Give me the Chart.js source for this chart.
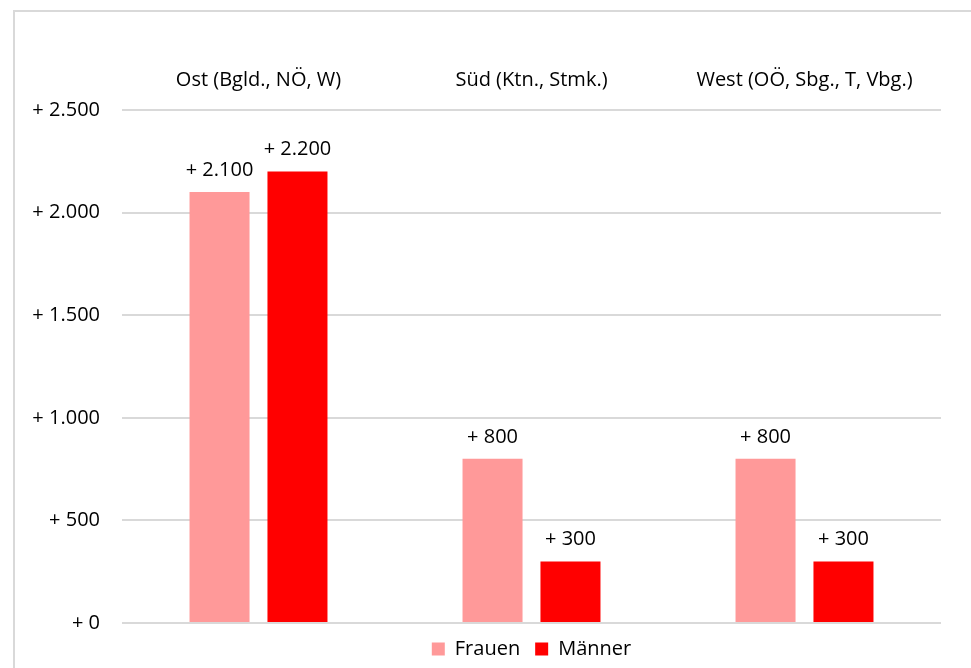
<!DOCTYPE html>
<html lang="de">
<head>
<meta charset="utf-8">
<script src="https://cdn.jsdelivr.net/npm/chart.js@4"></script>
<style>
  html, body { margin: 0; padding: 0; background: #fff; }
  #wrap { position: relative; width: 971px; height: 668px; }
</style>
</head>
<body>
<div id="wrap"><canvas id="regionChart" width="971" height="668"></canvas></div>
<script>
/* Zuwachs nach Region und Geschlecht */
const REGIONS = ['Ost (Bgld., NÖ, W)', 'Süd (Ktn., Stmk.)', 'West (OÖ, Sbg., T, Vbg.)'];
const FRAUEN = [2100, 800, 800];
const MAENNER = [2200, 300, 300];
const Y_TICKS = [0, 500, 1000, 1500, 2000, 2500];

const FONT = "'Open Sans', 'Noto Sans', sans-serif";
const FONT_SIZE = 20;
const GRID = '#d9d9d9';

Chart.defaults.font.family = FONT;
Chart.defaults.font.size = FONT_SIZE;
Chart.defaults.color = '#000';

/* "+ 2.100" style with dot as thousands separator */
function fmt(v) {
    return '+ ' + v.toLocaleString('de-DE');
}

/* Frame around the chart */
const framePlugin = {
    id: 'frame',
    beforeDraw(chart) {
        const c = chart.ctx;
        c.save();
        c.fillStyle = '#fff';
        c.fillRect(0, 0, chart.width, chart.height);
        c.strokeStyle = GRID;
        c.lineWidth = 2;
        c.strokeRect(14, 11, chart.width + 20, chart.height + 20);
        c.restore();
    }
};

/* Center the legend under the plot area instead of the whole canvas */
const legendUnderPlot = {
    id: 'legendUnderPlot',
    afterLayout(chart) {
        const lg = chart.legend;
        if (!lg) return;
        lg.left = chart.chartArea.left;
        lg.right = chart.chartArea.right;
        lg.width = lg.right - lg.left;
        lg.top += 1;
        lg.bottom += 1;
        lg.adjustHitBoxes && lg.adjustHitBoxes();
    }
};

/* Value labels above each bar */
const valueLabels = {
    id: 'valueLabels',
    afterDatasetsDraw(chart) {
        const c = chart.ctx;
        c.save();
        c.font = FONT_SIZE + 'px ' + FONT;
        c.fillStyle = '#000';
        c.textAlign = 'center';
        c.textBaseline = 'bottom';
        chart.data.datasets.forEach((ds, i) => {
            chart.getDatasetMeta(i).data.forEach((bar, j) => {
                c.fillText(fmt(ds.data[j]), bar.x, bar.y - 12);
            });
        });
        c.restore();
    }
};

new Chart(document.getElementById('regionChart'), {
    type: 'bar',
    data: {
        labels: REGIONS,
        datasets: [
            { label: 'Frauen', data: FRAUEN, backgroundColor: '#ff9999' },
            { label: 'Männer', data: MAENNER, backgroundColor: '#ff0000' }
        ]
    },
    options: {
        responsive: false,
        animation: false,
        categoryPercentage: 0.571,
        barPercentage: 0.77,
        layout: { padding: { left: 0, right: 30, top: 0, bottom: 0 } },
        scales: {
            x: {
                position: 'top',
                grid: { display: false, drawTicks: false },
                border: { display: false },
                ticks: { padding: 18, maxRotation: 0 },
                afterFit(scale) { scale.height = 110; }
            },
            y: {
                min: 0,
                max: 2500,
                afterBuildTicks(scale) { scale.ticks = Y_TICKS.map(v => ({ value: v })); },
                grid: { color: GRID, lineWidth: 2, drawTicks: false },
                border: { display: false },
                ticks: { padding: 22, callback: v => fmt(v) },
                afterFit(scale) { scale.width = 122; }
            }
        },
        plugins: {
            legend: {
                position: 'bottom',
                labels: { boxWidth: 13, boxHeight: 13, padding: 15 }
            },
            tooltip: { enabled: false }
        }
    },
    plugins: [framePlugin, legendUnderPlot, valueLabels]
});
</script>
</body>
</html>
